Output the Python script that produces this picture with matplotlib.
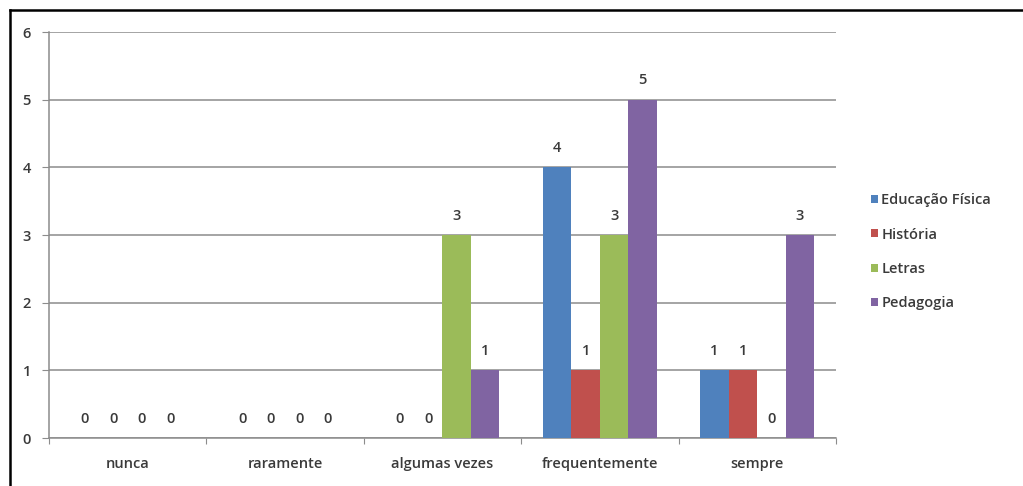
import numpy as np
import matplotlib
matplotlib.use('Agg')
import matplotlib.pyplot as plt
from matplotlib.lines import Line2D

# ── Data ─────────────────────────────────────────────────────────────────────
categories = ['nunca', 'raramente', 'algumas vezes', 'frequentemente', 'sempre']
series = ['Educação Física', 'História', 'Letras', 'Pedagogia']
ed_fisica = [0, 0, 0, 4, 1]
historia = [0, 0, 0, 1, 1]
letras = [0, 0, 3, 3, 0]
pedagogia = [0, 0, 1, 5, 3]
values = [ed_fisica, historia, letras, pedagogia]
colors = ['#4F81BD', '#C0504D', '#9BBB59', '#8064A2']

plt.rcParams['font.family'] = ['Open Sans', 'DejaVu Sans']
plt.rcParams['font.weight'] = 'semibold'
txt = '#3a3a3a'
fs = 10.5

W, H = 1023, 486
fig = plt.figure(figsize=(W / 100, H / 100), dpi=100)
ax = fig.add_axes([49 / W, 1 - 438 / H, (836 - 49) / W, (438 - 32) / H])

x = np.arange(len(categories))
bw = 0.181
for i, (name, vals, col) in enumerate(zip(series, values, colors)):
    pos = x + (i - 1.5) * bw
    ax.bar(pos, vals, width=bw, color=col, label=name, zorder=3)
    for xp, v in zip(pos, vals):
        ax.annotate(str(v), (xp, v), xytext=(0, 9), textcoords='offset points',
                    ha='center', va='bottom', fontsize=fs, color=txt)

ax.set_xlim(-0.5, len(categories) - 0.5)
ax.set_ylim(0, 6)
ax.set_yticks(range(7))
ax.yaxis.grid(True, color='#8c8c8c', linewidth=1.1, zorder=0)
ax.set_xticks(np.arange(len(categories) + 1) - 0.5)
ax.set_xticklabels([])
ax.set_xticks(x, minor=True)
ax.set_xticklabels(categories, minor=True)
ax.tick_params(axis='x', which='minor', length=0, pad=14, labelsize=fs, labelcolor=txt)
ax.tick_params(axis='x', which='major', length=4, color='#8c8c8c')
ax.tick_params(axis='y', length=5, color='#8c8c8c', labelsize=fs, labelcolor=txt, pad=8)
for s in ['top', 'right']:
    ax.spines[s].set_visible(False)
for s in ['left', 'bottom']:
    ax.spines[s].set_color('#8c8c8c')
    ax.spines[s].set_linewidth(1.1)

ax.legend(loc='upper left', bbox_to_anchor=(858 / W, 1 - 180 / H), bbox_transform=fig.transFigure,
          frameon=False, handlelength=0.45, handleheight=0.45, handletextpad=0.25,
          labelspacing=1.4, fontsize=fs, labelcolor=txt)

# partial black frame (top and left edges of the original picture)
fig.add_artist(Line2D([9.5 / W, 1], [1 - 10 / H, 1 - 10 / H], transform=fig.transFigure,
                      color='black', linewidth=1.8))
fig.add_artist(Line2D([9.5 / W, 9.5 / W], [0, 1 - 10 / H], transform=fig.transFigure,
                      color='black', linewidth=1.8))

fig.savefig('out.png', dpi=100)
